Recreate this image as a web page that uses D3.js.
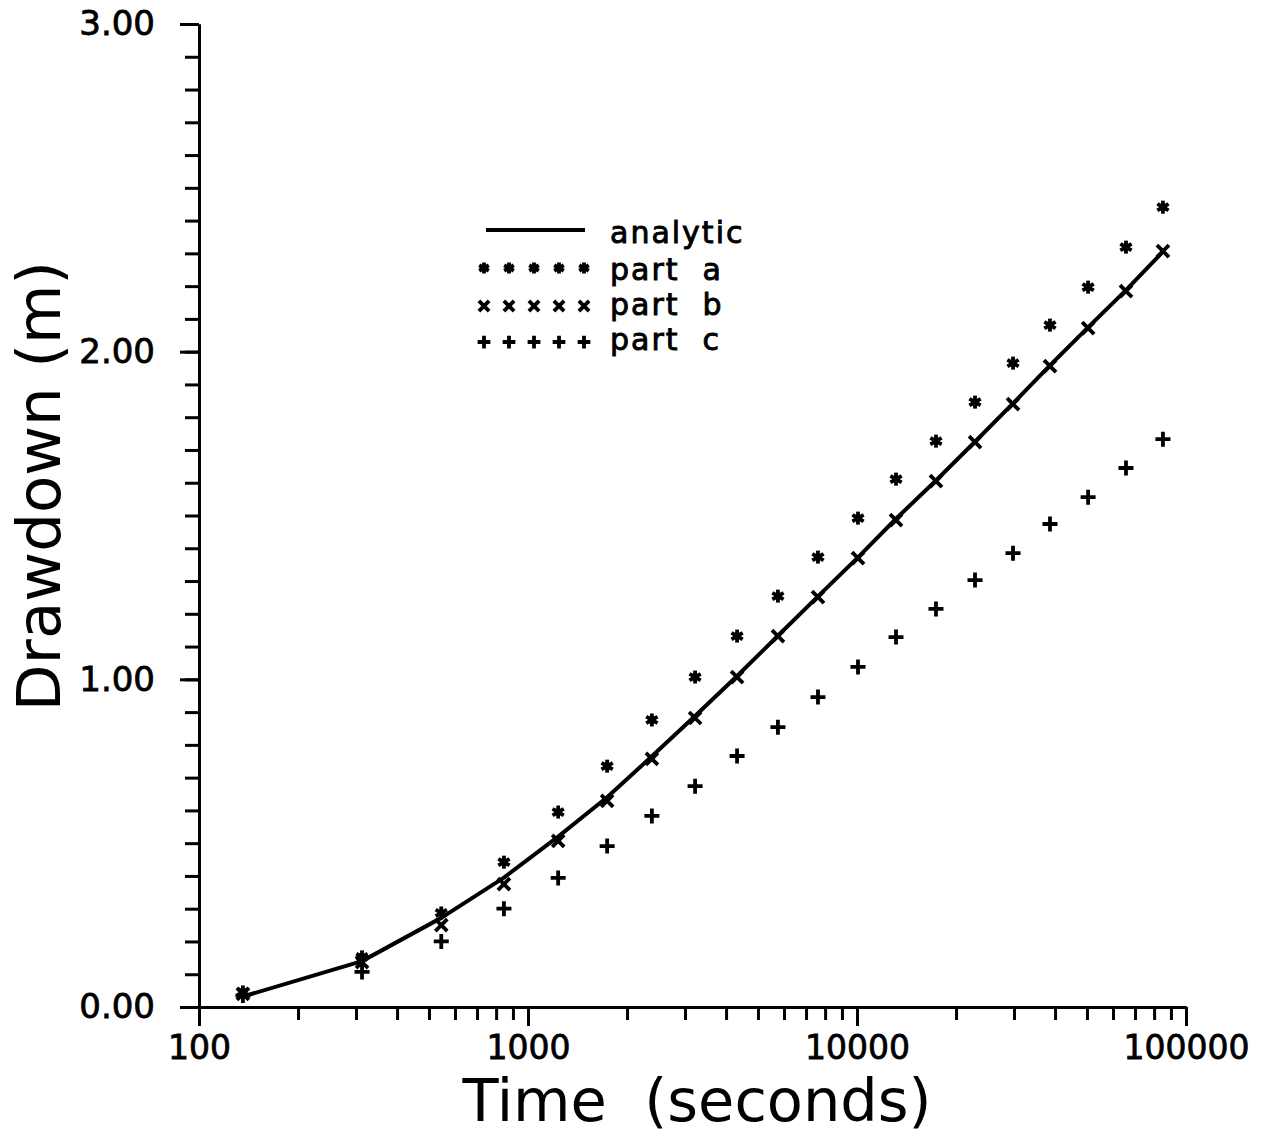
<!DOCTYPE html>
<html>
<head>
<meta charset="utf-8">
<script src="https://cdn.jsdelivr.net/npm/d3@7"></script>
<style>
  body { margin: 0; background: #fff; }
  text { font-family: "DejaVu Sans", sans-serif; fill: #000; white-space: pre; }
</style>
</head>
<body>
<div id="chart"></div>
<script>
var width = 1264,
    height = 1136;

// time of each sample (seconds)
var times = [136, 313, 545, 845, 1235, 1740, 2380, 3220, 4320, 5750,
             7610, 10070, 13140, 17380, 22840, 29800, 38600, 50400, 65700, 85100];

// drawdown (m)
var analytic = [0.032, 0.140, 0.272, 0.395, 0.520, 0.640, 0.765, 0.888, 1.010, 1.133,
                1.253, 1.372, 1.490, 1.607, 1.725, 1.842, 1.958, 2.074, 2.188, 2.305];
var partA = [0.046, 0.153, 0.287, 0.442, 0.595, 0.735, 0.876, 1.007, 1.132, 1.254,
             1.373, 1.492, 1.611, 1.727, 1.846, 1.965, 2.081, 2.197, 2.319, 2.441];
var partB = [0.040, 0.137, 0.250, 0.375, 0.507, 0.629, 0.757, 0.882, 1.007, 1.132,
             1.251, 1.370, 1.486, 1.605, 1.724, 1.840, 1.956, 2.072, 2.185, 2.307];
var partC = [0.035, 0.107, 0.200, 0.300, 0.394, 0.491, 0.583, 0.674, 0.766, 0.854,
             0.946, 1.038, 1.129, 1.215, 1.303, 1.385, 1.474, 1.556, 1.645, 1.733];

var legendLabels = ["analytic", "part  a", "part  b", "part  c"];
var xMajor = [100, 1000, 10000, 100000];
var yMajor = [0, 1, 2, 3];

var svg = d3.select("#chart").append("svg")
    .attr("width", width)
    .attr("height", height);

var x = d3.scaleLog()
    .domain([100, 100000])
    .range([199, 1186]);

var y = d3.scaleLinear()
    .domain([0, 3])
    .range([1007, 24]);

// minor ticks every decade step
var xMinor = [];
for (var e = 100; e < 100000; e *= 10) {
  for (var k = 2; k <= 9; k++) xMinor.push(e * k);
}
var yMinor = d3.range(0, 31).map(function(i) { return i / 10; });

function styleAxis(g) {
  g.select(".domain").attr("stroke-width", 3);
  g.selectAll(".tick line").attr("stroke-width", 3);
  g.selectAll(".tick text")
    .style("font-family", "'DejaVu Sans', sans-serif")
    .attr("stroke", "#000").attr("stroke-width", 0.8);
}

// x axis
svg.append("g")
    .attr("transform", "translate(0,1007)")
    .call(d3.axisBottom(x).tickValues(xMinor).tickSize(13).tickSizeOuter(0).tickFormat(""))
    .call(styleAxis);
svg.append("g")
    .attr("transform", "translate(0,1007)")
    .call(d3.axisBottom(x).tickValues(xMajor).tickSize(19).tickSizeOuter(0).tickPadding(10)
          .tickFormat(d3.format("d")))
    .call(styleAxis)
    .call(function(g) { g.selectAll(".tick text").attr("font-size", 33); });

// y axis
svg.append("g")
    .attr("transform", "translate(199,0)")
    .call(d3.axisLeft(y).tickValues(yMinor).tickSize(14).tickSizeOuter(0).tickFormat(""))
    .call(styleAxis);
svg.append("g")
    .attr("transform", "translate(199,0)")
    .call(d3.axisLeft(y).tickValues(yMajor).tickSize(19).tickSizeOuter(0).tickPadding(25)
          .tickFormat(d3.format(".2f")))
    .call(styleAxis)
    .call(function(g) { g.selectAll(".tick text").attr("font-size", 34); });

// axis titles
svg.append("text")
    .attr("x", 697)
    .attr("y", 1121)
    .attr("text-anchor", "middle")
    .attr("font-size", 59)
    .text("Time  (seconds)");

svg.append("text")
    .attr("transform", "translate(60,486) rotate(-90)")
    .attr("text-anchor", "middle")
    .attr("font-size", 61)
    .text("Drawdown (m)");

// marker shapes
function asterisk(g, s) {
  [90, 30, 150].forEach(function(a) {
    var r = a * Math.PI / 180;
    g.append("line")
      .attr("x1", -s * Math.cos(r)).attr("y1", -s * Math.sin(r))
      .attr("x2", s * Math.cos(r)).attr("y2", s * Math.sin(r))
      .attr("stroke", "#000").attr("stroke-width", 3.8);
  });
  g.append("circle").attr("r", s * 0.6).attr("fill", "#000");
}
function cross(g, s) {
  g.append("path")
    .attr("d", "M" + (-s) + "," + (-s) + "L" + s + "," + s + "M" + (-s) + "," + s + "L" + s + "," + (-s))
    .attr("stroke", "#000").attr("stroke-width", 3.8).attr("fill", "none");
}
function plus(g, s) {
  g.append("path")
    .attr("d", "M" + (-s) + ",0H" + s + "M0," + (-s) + "V" + s)
    .attr("stroke", "#000").attr("stroke-width", 3.8).attr("fill", "none");
}

// analytic line
var line = d3.line()
    .x(function(d) { return x(d[0]); })
    .y(function(d) { return y(d[1]); });

svg.append("path")
    .datum(d3.zip(times, analytic))
    .attr("d", line)
    .attr("fill", "none")
    .attr("stroke", "#000")
    .attr("stroke-width", 4)
    .attr("stroke-linejoin", "round");

var series = [
  { vals: partA, draw: asterisk, size: 6.5 },
  { vals: partB, draw: cross, size: 6 },
  { vals: partC, draw: plus, size: 7.5 }
];

series.forEach(function(s) {
  svg.append("g").selectAll("g")
      .data(d3.zip(times, s.vals))
      .enter().append("g")
      .attr("transform", function(d) { return "translate(" + x(d[0]) + "," + y(d[1]) + ")"; })
      .each(function() { s.draw(d3.select(this), s.size); });
});

// legend
var legend = svg.append("g");
legend.append("line")
    .attr("x1", 486).attr("x2", 585)
    .attr("y1", 230).attr("y2", 230)
    .attr("stroke", "#000").attr("stroke-width", 3.8);

var legendRows = [268, 306, 342];
series.forEach(function(s, i) {
  [484, 509, 534, 559, 584].forEach(function(mx) {
    var m = legend.append("g").attr("transform", "translate(" + mx + "," + legendRows[i] + ")");
    s.draw(m, s.size * 0.85);
  });
});

legend.selectAll("text")
    .data(legendLabels)
    .enter().append("text")
    .attr("x", 610)
    .attr("y", function(d, i) { return [243, 280, 315, 350][i]; })
    .attr("font-size", 30)
    .attr("letter-spacing", 2)
    .attr("stroke", "#000")
    .attr("stroke-width", 0.9)
    .text(function(d) { return d; });
</script>
</body>
</html>
